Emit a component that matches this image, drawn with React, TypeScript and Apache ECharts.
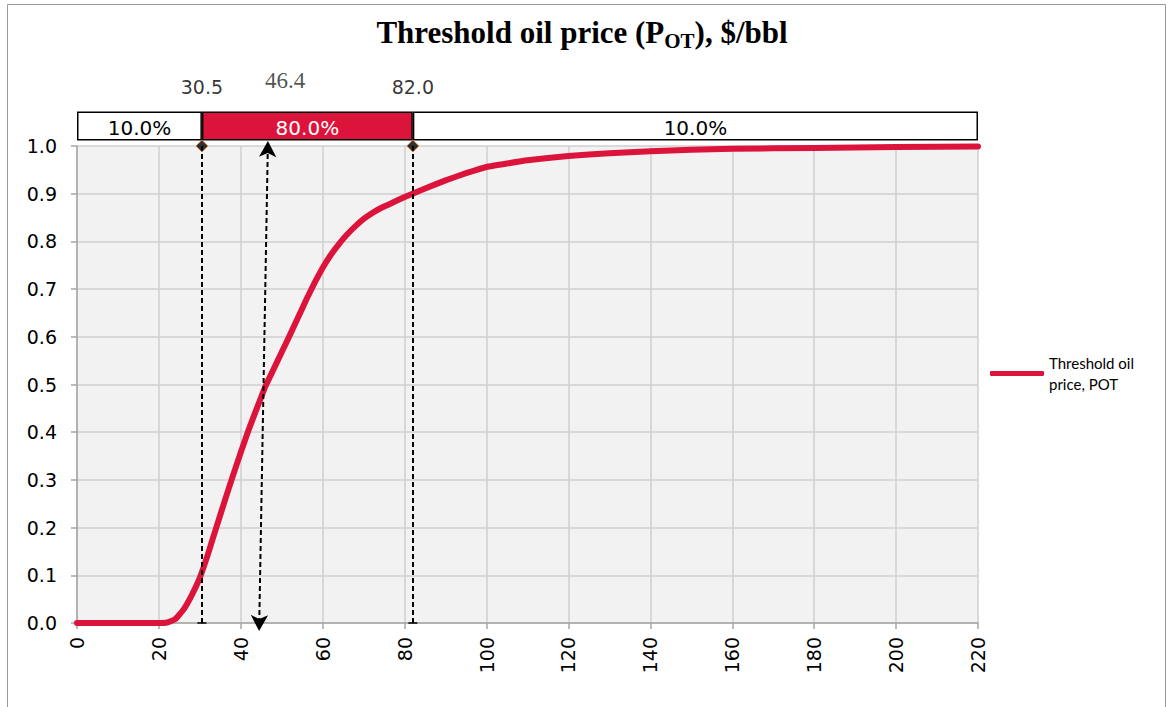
import React, { useEffect, useRef } from "react";
import * as echarts from "echarts";

// Cumulative probability curve of the threshold oil price
const priceX = [0, 10, 20, 22, 24, 26, 28, 30, 32, 34, 36, 38, 40, 42, 44, 46, 48, 50, 52, 54, 56, 58, 60, 62, 64, 66, 68, 70, 72, 74, 76, 80, 85, 90, 95, 100, 110, 120, 130, 140, 150, 160, 180, 200, 220];
const cumProb = [0, 0, 0, 0.001, 0.008, 0.028, 0.058, 0.095, 0.145, 0.2, 0.254, 0.307, 0.358, 0.407, 0.452, 0.496, 0.532, 0.568, 0.604, 0.641, 0.678, 0.713, 0.745, 0.772, 0.795, 0.815, 0.832, 0.847, 0.859, 0.869, 0.877, 0.893, 0.911, 0.928, 0.943, 0.956, 0.97, 0.979, 0.985, 0.989, 0.992, 0.994, 0.996, 0.998, 0.999];

// Percentiles and mean
const p10 = 30.5;
const p90 = 82.0;
const meanPrice = 46.4;
const arrowEnds = [44.5, 46.6]; // x at bottom (0) and at top (1.0) of the slanted arrow

// Top band
const xMax = 220;
const bandEdges = [0, p10, p90, xMax];
const bandShares = [10.0, 80.0, 10.0];

const yTicks = [0, 0.1, 0.2, 0.3, 0.4, 0.5, 0.6, 0.7, 0.8, 0.9, 1.0];

const RED = "#dc143c";
const SANS = "'DejaVu Sans', 'Liberation Sans', sans-serif";
const SERIF = "'Liberation Serif', 'Times New Roman', serif";
const SERIES_NAME = "Threshold oil price, POT";

export default function App() {
  const ref = useRef<HTMLDivElement>(null);

  useEffect(() => {
    const chart = echarts.init(ref.current!, null, { renderer: "svg" });

    const bandColors = ["#ffffff", RED, "#ffffff"];
    const bandTextColors = ["#000", "#fff", "#000"];
    const bandSeries = bandShares.map((share, i) => ({
      type: "bar",
      xAxisIndex: 1,
      yAxisIndex: 1,
      stack: "band",
      barWidth: 29,
      data: [bandEdges[i + 1] - bandEdges[i]],
      itemStyle: { color: bandColors[i], borderColor: "#000", borderWidth: 1.5 },
      label: {
        show: true,
        position: "inside",
        formatter: () => share.toFixed(1) + "%",
        color: bandTextColors[i],
        fontFamily: SANS,
        fontSize: 20,
        offset: [0, 2],
      },
      silent: true,
      z: 2,
    }));

    const option: any = {
      animation: false,
      backgroundColor: "#fff",
      title: {
        text: "{b|Threshold oil price (P}{s|OT}{b|), $/bbl}",
        left: 577,
        textAlign: "center",
        top: 8,
        textStyle: {
          rich: {
            b: { fontFamily: SERIF, fontWeight: "bold", fontSize: 31, lineHeight: 38, color: "#000" },
            s: { fontFamily: SERIF, fontWeight: "bold", fontSize: 21, lineHeight: 2, verticalAlign: "bottom", color: "#000" },
          },
        },
      },
      legend: {
        data: [{ name: SERIES_NAME, icon: "roundRect" }],
        left: 990,
        top: 342,
        padding: 0,
        itemWidth: 54,
        itemHeight: 5,
        formatter: () => "Threshold oil\nprice, POT",
        textStyle: { fontFamily: "Lato, 'Open Sans', sans-serif", fontSize: 15, color: "#000", lineHeight: 21, padding: [21, 0, 0, 0] },
        selectedMode: false,
      },
      graphic: [
        {
          type: "rect",
          silent: true,
          z: -10,
          shape: { x: 7.5, y: 4.5, width: 1158, height: 730 },
          style: { fill: "none", stroke: "#9a9a9a", lineWidth: 1 },
        },
      ],
      grid: [
        { left: 77, top: 146, width: 901, height: 477, show: true, backgroundColor: "#f2f2f2", borderWidth: 0 },
        { left: 77, top: 111, width: 901, height: 30, show: false },
      ],
      xAxis: [
        {
          type: "value",
          gridIndex: 0,
          min: 0,
          max: xMax,
          interval: 20,
          axisLine: { show: true, lineStyle: { color: "#a6a6a6", width: 1.5 } },
          axisTick: { show: true, length: 6, lineStyle: { color: "#a6a6a6", width: 1.5 } },
          splitLine: { show: true, lineStyle: { color: "#cfcfcf", width: 1.5 } },
          axisLabel: { rotate: 90, margin: 14, color: "#000", fontFamily: SANS, fontSize: 19 },
        },
        { type: "value", gridIndex: 1, min: 0, max: xMax, show: false },
      ],
      yAxis: [
        {
          type: "value",
          gridIndex: 0,
          min: 0,
          max: 1,
          interval: 0.1,
          axisLine: { show: true, lineStyle: { color: "#a6a6a6", width: 1.5 } },
          axisTick: { show: true, length: 6, lineStyle: { color: "#a6a6a6", width: 1.5 } },
          splitLine: { show: true, lineStyle: { color: "#cfcfcf", width: 1.5 } },
          axisLabel: {
            margin: 20,
            color: "#000",
            fontFamily: SANS,
            fontSize: 19,
            formatter: (v: number) => (yTicks.some((t) => Math.abs(t - v) < 1e-9) ? v.toFixed(1) : ""),
          },
        },
        { type: "category", gridIndex: 1, data: ["band"], show: false },
      ],
      series: [
        {
          name: SERIES_NAME,
          type: "line",
          xAxisIndex: 0,
          yAxisIndex: 0,
          data: priceX.map((x, i) => [x, cumProb[i]]),
          showSymbol: false,
          smooth: 0.1,
          color: RED,
          lineStyle: { color: RED, width: 6, cap: "round", join: "round" },
          z: 3,
          silent: true,
        },
        {
          name: "markers",
          type: "scatter",
          xAxisIndex: 0,
          yAxisIndex: 0,
          data: [
            [p10, 1],
            [p90, 1],
          ],
          symbol: "diamond",
          symbolSize: 12,
          itemStyle: { color: "#000", borderColor: "#ed7d31", borderWidth: 1 },
          z: 6,
          silent: true,
          markLine: {
            silent: true,
            symbol: ["none", "none"],
            label: { show: false },
            lineStyle: { type: [5, 3], color: "#000", width: 2 },
            z: 5,
            data: [
              [{ coord: [p10, 0], symbol: "rect", symbolSize: [9, 1.5] }, { coord: [p10, 1], symbol: "none" }],
              [{ coord: [p90, 0], symbol: "rect", symbolSize: [9, 1.5] }, { coord: [p90, 1], symbol: "none" }],
              [
                { coord: [arrowEnds[0], 0], symbol: "arrow", symbolSize: [13, 16], symbolOffset: [0, -8] },
                { coord: [arrowEnds[1], 1], symbol: "arrow", symbolSize: [13, 16], symbolOffset: [0, -5] },
              ],
            ],
          },
        },
        ...bandSeries,
        {
          name: "pctLabels",
          type: "scatter",
          xAxisIndex: 1,
          yAxisIndex: 1,
          data: [
            [p10, 0],
            [p90, 0],
          ],
          symbolSize: 0,
          silent: true,
          label: {
            show: true,
            position: "inside",
            offset: [0, -39],
            formatter: (p: any) => p.value[0].toFixed(1),
            color: "#000",
            fontFamily: SANS,
            fontSize: 19,
          },
        },
        {
          name: "meanLabel",
          type: "scatter",
          xAxisIndex: 1,
          yAxisIndex: 1,
          data: [[meanPrice, 0]],
          symbolSize: 0,
          silent: true,
          label: {
            show: true,
            position: "inside",
            offset: [18, -46],
            formatter: (p: any) => p.value[0].toFixed(1),
            color: "#262626",
            fontFamily: SERIF,
            fontSize: 23,
          },
        },
      ],
    };

    chart.setOption(option);
    return () => chart.dispose();
  }, []);

  return (
    <div
      ref={ref}
      style={{ position: "fixed", left: 0, top: 0, width: 1170, height: 707, background: "#fff" }}
    />
  );
}
